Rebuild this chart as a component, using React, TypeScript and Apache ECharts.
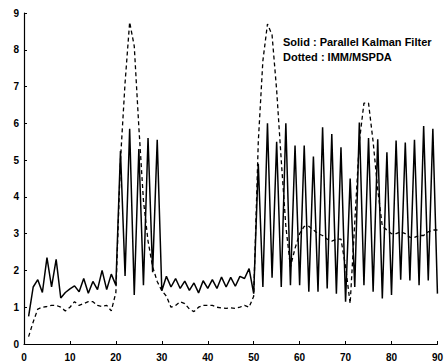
import React, { useEffect, useRef } from "react";
import * as echarts from "echarts";

const xValues: number[] = Array.from({ length: 90 }, (_, i) => i + 1);

const solidValues: number[] = [
  0.75, 1.55, 1.75, 1.4, 2.35, 1.55, 2.3, 1.25, 1.4, 1.5,
  1.58, 1.42, 1.78, 1.38, 1.7, 1.48, 2.0, 1.48, 1.9, 1.6,
  5.25, 1.85, 5.85, 1.33, 5.3, 1.6, 5.6, 1.95, 5.55, 1.45,
  1.84, 1.55, 1.78, 1.51, 1.71, 1.46, 1.66, 1.39, 1.72, 1.51,
  1.75, 1.51, 1.82, 1.55, 1.81, 1.57, 1.84, 1.78, 2.05, 1.37,
  4.9, 1.55, 6.0, 1.8, 5.5, 1.55, 6.0, 1.6, 5.4, 1.6,
  5.4, 1.42, 5.1, 1.42, 5.89, 1.51, 5.71, 1.37, 5.35, 1.15,
  4.5, 1.55, 6.02, 1.6, 5.6, 1.42, 5.57, 1.24, 5.21, 1.33,
  5.53, 1.75, 5.48, 1.73, 5.55, 1.6, 5.93, 1.73, 5.85, 1.37,
];

const dottedValues: number[] = [
  0.2, 0.6, 0.95, 1.0, 1.02, 1.05, 1.05, 1.0, 0.9, 1.0,
  1.15, 1.05, 1.1, 1.15, 1.15, 1.05, 1.02, 1.05, 0.9, 1.4,
  5.0, 7.1, 8.75, 8.1, 5.9, 3.9, 2.8, 2.1, 1.7, 1.45,
  1.3, 1.0, 1.05, 1.15, 1.1, 0.95, 0.88, 1.0, 1.05, 1.05,
  1.05, 1.0, 0.98, 0.97, 0.98, 0.97, 1.0, 1.05, 1.0, 1.3,
  5.5, 7.7, 8.7, 8.4, 6.9, 5.0, 3.2, 2.1, 2.6, 3.0,
  3.2, 3.2, 3.1, 3.0, 2.95, 2.85, 2.8, 2.85, 2.85, 2.1,
  1.1, 3.3, 5.5, 6.55, 6.55, 5.5, 4.2, 3.2, 3.1, 3.0,
  3.0, 3.05, 3.0, 2.9, 2.9, 2.95, 2.95, 3.05, 3.1, 3.1,
];

const legendLines: string[] = [
  "Solid : Parallel Kalman Filter",
  "Dotted : IMM/MSPDA",
];

const FONT = "'Liberation Sans', Arial, sans-serif";

export default function App() {
  const ref = useRef<HTMLDivElement>(null);

  useEffect(() => {
    if (!ref.current) return;
    const chart = echarts.init(ref.current, null, { renderer: "svg" });
    const axisCommon = {
      axisLine: { show: true, onZero: false, lineStyle: { color: "#000", width: 1.2 } },
      axisTick: { show: true, inside: true, length: 3, lineStyle: { color: "#000", width: 1 } },
      splitLine: { show: false },
    };
    chart.setOption({
      animation: false,
      backgroundColor: "#fff",
      grid: { left: 24, right: 6, top: 13, bottom: 19, containLabel: false },
      xAxis: {
        type: "value",
        min: 0,
        max: 90,
        interval: 10,
        ...axisCommon,
        axisLabel: { color: "#000", fontSize: 10, fontWeight: "bold", fontFamily: FONT, margin: 8 },
      },
      yAxis: {
        type: "value",
        min: 0,
        max: 9,
        interval: 1,
        ...axisCommon,
        axisLabel: { color: "#000", fontSize: 10, fontWeight: "bold", fontFamily: FONT, margin: 5 },
      },
      series: [
        {
          name: "Solid",
          type: "line",
          data: xValues.map((x, i) => [x, solidValues[i]]),
          showSymbol: false,
          lineStyle: { color: "#000", width: 1.5 },
        },
        {
          name: "Dotted",
          type: "line",
          data: xValues.map((x, i) => [x, dottedValues[i]]),
          showSymbol: false,
          lineStyle: { color: "#000", width: 1.3, type: [4, 3] },
        },
      ],
      graphic: legendLines.map((t, i) => ({
        type: "text",
        left: 283,
        top: 36 + i * 15,
        style: {
          text: t,
          fill: "#000",
          font: `bold 11px ${FONT}`,
        },
      })),
    });
    return () => chart.dispose();
  }, []);

  return (
    <div
      ref={ref}
      style={{ position: "fixed", left: 0, top: 0, width: 446, height: 363, background: "#fff" }}
    />
  );
}
